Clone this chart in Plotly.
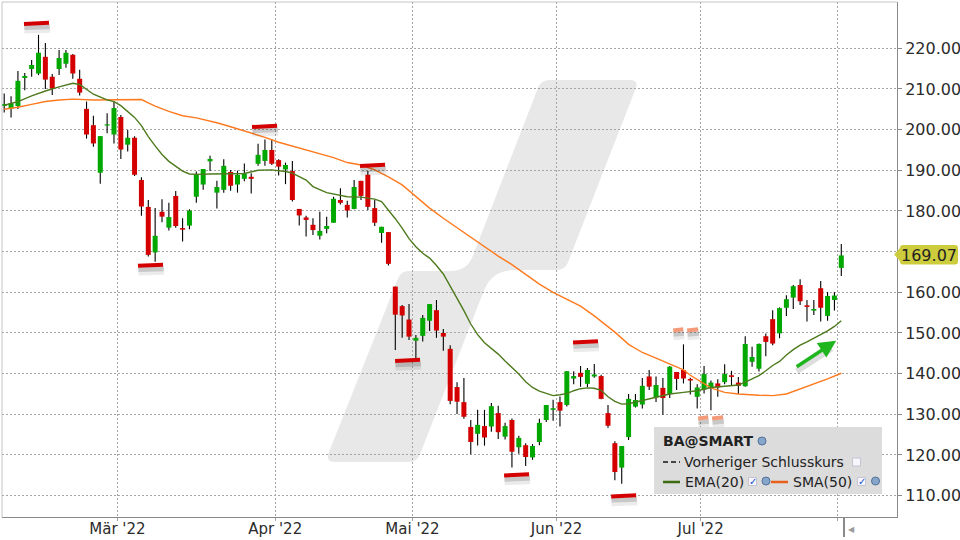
import numpy as np
import pandas as pd
import plotly.graph_objects as go

# ------------------------------------------------------------------ data
holidays = ["2022-02-21", "2022-04-15", "2022-05-30", "2022-06-20", "2022-07-04"]
sessions = [d.strftime("%Y-%m-%d") for d in pd.bdate_range("2022-02-03", "2022-08-01")
            if d.strftime("%Y-%m-%d") not in holidays]

open_ = [205.8, 205.1, 205.8, 212.7, 214.9, 213.8, 217.9, 213.0, 214.9, 216.2,
         218.4, 212.5, 205.1, 201.1, 189.4, 201.0, 198.8, 203.1, 196.3, 198.0,
         187.6, 181.0, 169.8, 179.8, 175.9, 183.7, 175.8, 176.4, 183.5, 186.5,
         192.2, 184.5, 185.2, 189.6, 186.5, 187.9, 188.4, 191.6, 192.3, 195.0,
         192.5, 190.2, 189.8, 180.5, 178.4, 176.6, 173.9, 175.6, 177.1, 182.7,
         181.5, 180.5, 187.4, 188.9, 180.7, 174.6, 174.8, 161.4, 156.6, 153.3,
         148.1, 149.3, 153.0, 155.6, 150.0, 146.1, 136.7, 133.0, 126.9, 125.2,
         127.1, 127.0, 130.3, 124.5, 128.6, 121.9, 122.4, 119.4, 123.2, 128.6,
         131.1, 133.0, 132.3, 138.8, 140.2, 137.5, 139.3, 139.4, 130.3, 122.9,
         116.9, 124.4, 131.9, 132.4, 139.3, 134.2, 136.5, 135.0, 140.4, 140.9,
         138.7, 134.3, 136.1, 136.4, 137.6, 137.9, 139.6, 137.8, 136.9, 142.9,
         141.2, 149.2, 153.4, 149.9, 156.2, 158.7, 161.8, 156.8, 155.5, 161.0,
         154.2, 158.1, 166.0]
high = [208.9, 208.2, 214.4, 213.9, 217.1, 223.3, 221.3, 213.7, 219.6, 219.6,
        218.6, 214.7, 206.9, 203.4, 198.4, 204.0, 206.9, 203.6, 199.9, 198.4,
        188.3, 182.7, 180.7, 182.9, 182.0, 184.9, 178.2, 180.4, 189.7, 190.3,
        193.6, 187.4, 192.7, 190.1, 189.9, 191.7, 189.3, 196.5, 197.6, 197.6,
        192.7, 191.9, 192.3, 180.5, 178.8, 178.2, 179.8, 178.6, 183.5, 185.6,
        182.5, 187.6, 187.4, 189.8, 182.7, 176.1, 174.8, 161.4, 156.9, 157.1,
        149.5, 154.4, 157.1, 158.1, 151.0, 147.0, 137.9, 138.9, 128.6, 131.1,
        131.1, 132.8, 132.1, 127.9, 129.0, 124.7, 122.9, 122.7, 128.9, 132.3,
        133.6, 134.4, 140.6, 140.6, 141.9, 141.4, 142.4, 139.7, 132.3, 123.4,
        122.2, 135.0, 135.0, 138.9, 140.9, 139.3, 138.9, 141.9, 140.4, 147.2,
        139.0, 137.4, 141.9, 138.3, 138.6, 142.3, 140.7, 139.2, 149.2, 146.6,
        147.4, 149.9, 155.6, 156.3, 159.3, 161.8, 163.2, 158.1, 158.1, 162.8,
        160.1, 160.1, 171.9]
low = [204.2, 203.0, 205.1, 209.7, 213.0, 213.4, 210.0, 208.5, 213.4, 215.2,
       212.5, 208.4, 197.8, 195.8, 186.7, 199.1, 196.6, 192.8, 194.6, 188.6,
       178.8, 168.8, 167.5, 177.2, 175.2, 175.9, 172.5, 175.5, 182.0, 185.2,
       189.8, 180.6, 184.5, 185.0, 184.5, 187.3, 184.3, 191.1, 191.1, 191.3,
       188.7, 186.6, 182.3, 176.4, 173.7, 174.1, 173.0, 174.5, 177.1, 181.6,
       178.4, 180.4, 182.7, 180.2, 176.3, 172.2, 166.6, 145.8, 148.8, 148.3,
       143.2, 147.9, 150.5, 148.8, 145.6, 132.5, 130.1, 128.9, 120.2, 122.3,
       122.3, 125.7, 123.9, 123.8, 116.9, 120.3, 117.3, 118.8, 122.4, 128.1,
       128.4, 127.0, 131.9, 137.4, 136.8, 136.7, 139.0, 133.7, 126.7, 113.8,
       112.9, 123.7, 131.7, 131.4, 136.0, 133.0, 129.9, 134.0, 136.0, 137.6,
       134.9, 131.4, 135.1, 131.0, 134.3, 137.4, 137.2, 135.0, 136.8, 141.7,
       140.5, 144.3, 147.0, 148.7, 154.2, 155.9, 156.9, 152.8, 154.4, 152.8,
       153.0, 155.5, 164.0]
close = [206.3, 206.5, 212.0, 213.2, 215.9, 218.9, 212.3, 210.1, 217.6, 218.9,
         213.8, 209.1, 198.8, 196.6, 198.4, 201.3, 205.3, 195.1, 198.0, 188.9,
         181.1, 169.2, 173.9, 178.6, 178.5, 176.3, 175.4, 180.1, 189.1, 190.3,
         192.8, 185.9, 191.1, 186.2, 188.9, 189.1, 187.9, 193.8, 195.0, 191.6,
         190.9, 191.3, 182.7, 178.9, 177.8, 175.3, 175.1, 176.3, 183.0, 182.0,
         180.1, 185.9, 183.7, 181.0, 177.1, 176.1, 167.0, 154.5, 154.3, 149.1,
         148.8, 153.7, 157.1, 150.6, 149.1, 133.3, 133.1, 129.4, 123.2, 127.4,
         124.3, 132.0, 125.6, 127.1, 120.8, 124.2, 119.5, 122.2, 127.9, 132.3,
         131.5, 130.9, 140.6, 139.4, 139.2, 140.9, 139.8, 133.8, 127.2, 115.8,
         122.2, 133.8, 133.5, 137.0, 136.8, 137.2, 134.0, 141.7, 138.7, 138.8,
         138.3, 136.6, 139.9, 137.8, 136.6, 139.9, 139.2, 137.0, 147.3, 144.1,
         147.3, 147.8, 147.4, 156.1, 158.3, 161.5, 157.8, 156.4, 155.9, 156.2,
         159.1, 159.2, 169.07]

ema_dates = ["2022-02-03", "2022-02-07", "2022-02-09", "2022-02-11", "2022-02-15", "2022-02-17",
             "2022-02-18", "2022-02-23", "2022-02-25", "2022-02-28", "2022-03-01", "2022-03-03",
             "2022-03-04", "2022-03-07", "2022-03-08", "2022-03-09", "2022-03-10", "2022-03-11",
             "2022-03-14", "2022-03-15", "2022-03-16", "2022-03-18", "2022-03-23", "2022-03-25",
             "2022-03-29", "2022-03-31", "2022-04-04", "2022-04-05", "2022-04-07", "2022-04-08",
             "2022-04-12", "2022-04-13", "2022-04-18", "2022-04-20", "2022-04-22", "2022-04-25",
             "2022-04-26", "2022-04-27", "2022-04-28", "2022-04-29", "2022-05-02", "2022-05-03",
             "2022-05-04", "2022-05-05", "2022-05-06", "2022-05-09", "2022-05-10", "2022-05-11",
             "2022-05-12", "2022-05-13", "2022-05-16", "2022-05-17", "2022-05-18", "2022-05-19",
             "2022-05-20", "2022-05-23", "2022-05-24", "2022-05-25", "2022-05-26", "2022-05-27",
             "2022-05-31", "2022-06-01", "2022-06-02", "2022-06-03", "2022-06-06", "2022-06-07",
             "2022-06-08", "2022-06-09", "2022-06-10", "2022-06-13", "2022-06-14", "2022-06-15",
             "2022-06-16", "2022-06-17", "2022-06-22", "2022-06-24", "2022-06-28", "2022-06-30",
             "2022-07-05", "2022-07-07", "2022-07-11", "2022-07-12", "2022-07-13", "2022-07-14",
             "2022-07-15", "2022-07-18", "2022-07-19", "2022-07-20", "2022-07-21", "2022-07-22",
             "2022-07-25", "2022-07-26", "2022-07-27", "2022-07-28", "2022-07-29", "2022-08-01"]
ema_values = [206.0, 206.9, 208.3, 209.5, 210.5, 211.4,
              211.1, 208.7, 207.3, 206.9, 205.9, 203.0,
              201.0, 198.3, 196.0, 193.9, 192.2, 190.9,
              189.8, 189.1, 189.0, 189.1, 189.1, 189.2,
              190.0, 190.1, 189.7, 189.3, 187.6, 186.0,
              184.5, 184.2, 183.5, 183.4, 182.9, 182.3,
              180.3, 178.1, 175.8, 173.2, 171.2, 169.6,
              168.4, 166.6, 164.5, 161.6, 158.6, 155.5,
              152.2, 149.6, 147.6, 146.3, 144.8, 143.1,
              141.6, 139.9, 138.0, 136.6, 135.7, 135.2,
              134.6, 134.8, 135.1, 135.8, 136.3, 136.5,
              136.4, 135.9, 134.3, 133.2, 132.5, 132.6,
              133.0, 133.5, 134.3, 135.0, 135.4, 135.8,
              136.6, 136.9, 137.2, 137.9, 138.7, 139.5,
              140.7, 142.0, 143.0, 144.6, 145.9, 147.0,
              147.8, 148.7, 149.4, 150.5, 151.6, 153.0]

sma_dates = ["2022-02-03", "2022-02-07", "2022-02-09", "2022-02-11", "2022-02-15", "2022-02-17",
             "2022-02-23", "2022-02-28", "2022-03-04", "2022-03-07", "2022-03-08", "2022-03-10",
             "2022-03-14", "2022-03-16", "2022-03-21", "2022-03-23", "2022-03-25", "2022-03-30",
             "2022-04-01", "2022-04-06", "2022-04-08", "2022-04-13", "2022-04-18", "2022-04-20",
             "2022-04-22", "2022-04-26", "2022-04-28", "2022-05-02", "2022-05-04", "2022-05-06",
             "2022-05-10", "2022-05-12", "2022-05-16", "2022-05-18", "2022-05-20", "2022-05-24",
             "2022-05-26", "2022-05-31", "2022-06-02", "2022-06-06", "2022-06-08", "2022-06-10",
             "2022-06-13", "2022-06-15", "2022-06-17", "2022-06-22", "2022-06-24", "2022-06-28",
             "2022-06-29", "2022-06-30", "2022-07-05", "2022-07-07", "2022-07-11", "2022-07-14",
             "2022-07-18", "2022-07-20", "2022-07-22", "2022-07-26", "2022-07-28", "2022-08-01"]
sma_values = [205.0, 205.5, 206.2, 206.9, 207.3, 207.5,
              207.3, 207.4, 207.4, 206.6, 205.8, 204.5,
              203.4, 202.9, 201.7, 200.7, 199.7, 198.1,
              196.9, 195.5, 194.6, 193.1, 191.9, 191.3,
              190.1, 188.4, 186.4, 183.5, 180.7, 178.2,
              175.9, 173.6, 171.1, 168.9, 166.8, 164.5,
              162.0, 160.0, 158.2, 156.6, 154.2, 151.6,
              150.2, 147.2, 145.2, 143.8, 142.4, 140.9,
              139.6, 138.6, 136.5, 135.4, 135.0, 134.7,
              134.6, 135.0, 136.2, 137.4, 138.7, 140.1]

months_de = ["Jan", "Feb", "Mär", "Apr", "Mai", "Jun", "Jul", "Aug", "Sep", "Okt", "Nov", "Dez"]
price_ticks = [110, 120, 130, 140, 150, 160, 170, 180, 190, 200, 210, 220]
symbol = "BA@SMART"

# ------------------------------------------------------------------ helpers
n = len(sessions)
pos = {d: i for i, d in enumerate(sessions)}

# plot-area pixel box (for decorations placed in paper coordinates)
PX0, PX1, PY0, PY1 = 2, 897, 2, 517


def P(px, py):
    return ((px - PX0) / (PX1 - PX0), (PY1 - py) / (PY1 - PY0))


def rounded_path(pts, radii):
    out = []
    m = len(pts)
    for i in range(m):
        p = np.array(pts[i - 1], float)
        v = np.array(pts[i], float)
        q = np.array(pts[(i + 1) % m], float)
        r = radii[i]
        a = v + (p - v) / np.linalg.norm(p - v) * r
        b = v + (q - v) / np.linalg.norm(q - v) * r
        out.append((a, v, b))
    s = ""
    for i, (a, v, b) in enumerate(out):
        pa, pv, pb = P(*a), P(*v), P(*b)
        s += ("M" if i == 0 else "L") + f"{pa[0]:.5f},{pa[1]:.5f} "
        s += f"Q{pv[0]:.5f},{pv[1]:.5f} {pb[0]:.5f},{pb[1]:.5f} "
    return s + "Z"


# ------------------------------------------------------------------ traces
fig = go.Figure()

wx, wy = [], []
for i in range(n):
    wx += [i, i, None]
    wy += [low[i], high[i], None]
fig.add_trace(go.Scatter(x=wx, y=wy, mode="lines", line=dict(color="#000000", width=1.1),
                         hoverinfo="skip"))

for up, col in ((True, "#00a800"), (False, "#d40000")):
    bx, by = [], []
    for i in range(n):
        if (close[i] >= open_[i]) == up:
            bx += [i, i, None]
            by += [open_[i], close[i], None]
    fig.add_trace(go.Scatter(x=bx, y=by, mode="lines", line=dict(color=col, width=5),
                             hoverinfo="skip"))

fig.add_trace(go.Scatter(x=[pos[d] for d in sma_dates], y=sma_values, mode="lines",
                         line=dict(color="#ff7a1f", width=1.4), name="SMA(50)"))
fig.add_trace(go.Scatter(x=[pos[d] for d in ema_dates], y=ema_values, mode="lines",
                         line=dict(color="#4d7a1c", width=1.4), name="EMA(20)"))

# ------------------------------------------------------------------ axes
tickvals, ticktext = [], []
for i in range(1, n):
    if sessions[i][5:7] != sessions[i - 1][5:7]:
        tickvals.append(i - 0.5)
        m = int(sessions[i][5:7])
        lab = f"{months_de[m - 1]} '{sessions[i][2:4]}" if i < n - 3 else ""
        ticktext.append(lab)

ytext = ["" if abs(v - close[-1]) < 3 else f"{v:.2f}" for v in price_ticks]

fig.update_layout(
    width=960, height=540,
    margin=dict(l=PX0, r=960 - PX1, t=PY0, b=540 - PY1, autoexpand=False),
    paper_bgcolor="white", plot_bgcolor="white",
    showlegend=False,
    font=dict(family="DejaVu Sans", size=16, color="#2b2b2b"),
    xaxis=dict(range=[-0.32, 130.12], tickvals=tickvals, ticktext=ticktext,
               showgrid=True, gridcolor="#a5a5a5", griddash="2px,2px", gridwidth=1,
               zeroline=False, showline=True, linecolor="#8a8a8a", linewidth=1,
               ticks="outside", ticklen=3, tickcolor="#a5a5a5", ticklabelstandoff=-5,
               tickfont=dict(size=15, color="#2b2b2b"), fixedrange=True),
    yaxis=dict(side="right", range=[104.75, 231.38], tickvals=price_ticks, ticktext=ytext,
               showgrid=True, gridcolor="#a5a5a5", griddash="2px,2px", gridwidth=1,
               zeroline=False, showline=True, linecolor="#8a8a8a", linewidth=1,
               ticks="outside", ticklen=4, tickcolor="#8a8a8a",
               tickfont=dict(size=16, color="#2b2b2b"), fixedrange=True),
)

shapes = []

# watermark
wm_pts = [(541, 80), (639, 80), (565, 270), (492, 270), (417, 462), (325, 462), (401, 271), (467, 271)]
wm_rad = [9, 9, 8, 22, 8, 10, 8, 16]
shapes.append(dict(type="path", path=rounded_path(wm_pts, wm_rad), xref="paper", yref="paper",
                   fillcolor="#e8e8e8", line=dict(width=0), layer="below"))

# top / left frame
shapes.append(dict(type="line", xref="paper", yref="paper", x0=0, x1=1, y0=1, y1=1,
                   line=dict(color="#c4c4c4", width=1), layer="above"))
shapes.append(dict(type="line", xref="paper", yref="paper", x0=0, x1=0, y0=0, y1=1,
                   line=dict(color="#c4c4c4", width=1), layer="above"))

# hand-drawn highlight markers (index span, price)
red_marks = [(2.88, 6.53, 226.0), (19.50, 23.15, 166.5), (36.12, 39.77, 200.65),
             (51.86, 55.51, 191.06), (56.97, 60.61, 143.11), (82.90, 86.54, 147.66),
             (72.86, 76.50, 114.96), (88.46, 92.10, 109.8)]
orange_marks = [(97.50, 98.96, 150.61), (99.54, 101.14, 150.61),
                (101.14, 102.60, 128.97), (103.18, 104.78, 128.97)]


def marker(x0, x1, yv, color):
    return [
        dict(type="line", xref="x", yref="y", x0=x0 + 0.05, x1=x1 + 0.15, y0=yv - 1.4, y1=yv - 1.2,
             line=dict(color="rgba(0,0,0,0.08)", width=8), layer="above"),
        dict(type="line", xref="x", yref="y", x0=x0 + 0.05, x1=x1 + 0.1, y0=yv - 0.9, y1=yv - 0.7,
             line=dict(color="rgba(0,0,0,0.15)", width=5), layer="above"),
        dict(type="line", xref="x", yref="y", x0=x0, x1=x1, y0=yv, y1=yv + 0.3,
             line=dict(color=color, width=4), layer="above"),
    ]


for x0, x1, yv in red_marks:
    shapes += marker(x0, x1, yv, "#d40000")
for x0, x1, yv in orange_marks:
    shapes += marker(x0, x1, yv, "#f49a78")

# arrow shadow
shapes.append(dict(type="line", xref="x", yref="y", x0=115.5, y0=140.6, x1=120.6, y1=146.2,
                   line=dict(color="rgba(0,0,0,0.13)", width=6), layer="above"))

# legend box
lx0, ly0 = P(654, 427)
lx1, ly1 = P(882, 494)
shapes.append(dict(type="rect", xref="paper", yref="paper", x0=lx0, y0=ly1, x1=lx1, y1=ly0,
                   fillcolor="#dcdcdc", line=dict(width=0), layer="above"))


def hline(xa, xb, yy, color, width, dash="solid"):
    a = P(xa, yy)
    b = P(xb, yy)
    return dict(type="line", xref="paper", yref="paper", x0=a[0], y0=a[1], x1=b[0], y1=b[1],
                line=dict(color=color, width=width, dash=dash), layer="above")


def box(cx, cy, half, fill, lc, kind="rect"):
    a = P(cx - half, cy + half)
    b = P(cx + half, cy - half)
    return dict(type=kind, xref="paper", yref="paper", x0=a[0], y0=a[1], x1=b[0], y1=b[1],
                fillcolor=fill, line=dict(color=lc, width=1), layer="above")


shapes.append(hline(663, 680, 462, "#444444", 2, "5px,3px"))
shapes.append(hline(663, 680, 482, "#3d6b12", 2.5))
shapes.append(hline(771, 788, 482, "#e8601c", 2.5))
# globes
for cx, cy in ((762, 441), (766, 481), (875.5, 481)):
    shapes.append(box(cx, cy, 4, "#86a6cc", "#51709a", "circle"))
# checkboxes
for cx, cy in ((856.5, 462), (752.5, 481.5), (861.5, 481.5)):
    shapes.append(box(cx, cy, 4, "#f6f6fc", "#c4c4d4"))

# price tag
tag = [(894, 254.5), (900, 248), (900, 245), (958, 245), (958, 264.5), (900, 264.5), (900, 261)]
tag_rad = [0.5, 1, 3, 3, 3, 3, 1]
shapes.append(dict(type="path", path=rounded_path(tag, tag_rad), xref="paper", yref="paper",
                   fillcolor="#cccc3c", line=dict(width=0), layer="above"))

# current-date marker under the axis
a = P(844, 517)
b = P(844, 537)
shapes.append(dict(type="line", xref="paper", yref="paper", x0=a[0], y0=a[1], x1=b[0], y1=b[1],
                   line=dict(color="#8a8a8a", width=2), layer="above"))

fig.update_layout(shapes=shapes)

# ------------------------------------------------------------------ annotations
ann = []


def text(px, py, s, size=14, anchor="left", color="#222222"):
    u, v = P(px, py)
    return dict(x=u, y=v, xref="paper", yref="paper", text=s, showarrow=False,
                xanchor=anchor, yanchor="middle", font=dict(size=size, color=color,
                                                            family="DejaVu Sans"))


ann.append(text(661, 441, f"<b>{symbol}</b>"))
ann.append(text(682, 462, "Vorheriger Schlusskurs"))
ann.append(text(683, 482, "EMA(20)"))
ann.append(text(791, 482, "SMA(50)"))
for cx in (752.5, 861.5):
    ann.append(text(cx, 481.5, "<b>✓</b>", size=10, anchor="center", color="#1652d0"))
ann.append(text(928.5, 255, f"{close[-1]:.2f}", size=16, anchor="center", color="#222222"))
ann.append(text(851, 529, "◀", size=8, anchor="center", color="#9a9a9a"))

# trend arrow
ann.append(dict(x=121.26, y=148.1, xref="x", yref="y", ax=115.28, ay=141.47, axref="x", ayref="y",
                text="", showarrow=True, arrowhead=2, arrowsize=1, arrowwidth=3.5,
                arrowcolor="#1fb51f", standoff=0))

fig.update_layout(annotations=ann)

fig.write_html("out.html", config={"displayModeBar": False},
               post_script="document.body.style.margin='0';")
